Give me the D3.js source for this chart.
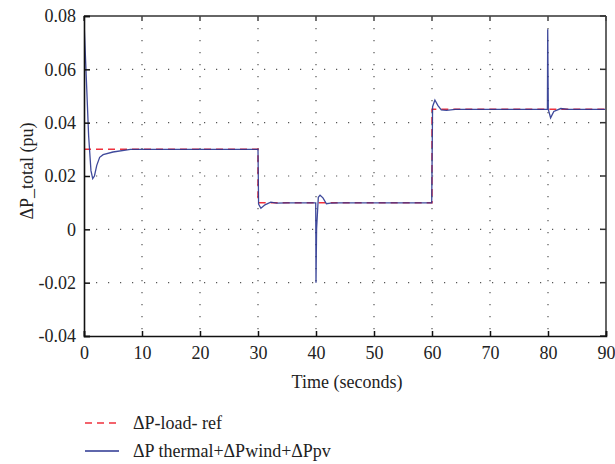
<!DOCTYPE html>
<html>
<head>
<meta charset="utf-8">
<script src="https://cdn.jsdelivr.net/npm/d3@7"></script>
</head>
<body style="margin:0; background:#fff">
<div id="chart-area"></div>
<script>
// data
var xTicks = [0, 10, 20, 30, 40, 50, 60, 70, 80, 90];
var yTicks = [-0.04, -0.02, 0, 0.02, 0.04, 0.06, 0.08];

var refTime = [0, 30, 30, 60, 60, 90, 90];
var refValue = [0.03, 0.03, 0.01, 0.01, 0.045, 0.045, 0.03];

var totTime = [0, 0.3, 0.8, 1.2, 1.5, 1.8, 2.2, 2.7, 3.3, 5, 8,
  30, 30.1, 30.5, 31.2, 32.2, 33.2, 35,
  39.95, 40.0, 40.1, 40.4, 40.7, 41.2, 41.8, 42.5, 44,
  59.95, 60.1, 60.5, 61.0, 61.6, 62.5, 64,
  79.9, 79.95, 80.05, 80.45, 81.0, 82.2, 83.5, 90];
var totValue = [0.078, 0.062, 0.035, 0.022, 0.019, 0.020, 0.024, 0.027, 0.028, 0.029, 0.030,
  0.030, 0.0095, 0.0079, 0.0092, 0.0102, 0.0098, 0.0099,
  0.0099, -0.02, 0.0, 0.012, 0.0128, 0.0118, 0.0096, 0.0098, 0.0099,
  0.0099, 0.046, 0.0485, 0.0465, 0.0448, 0.0446, 0.045,
  0.045, 0.075, 0.045, 0.0418, 0.0442, 0.0453, 0.045, 0.045];

var legendNames = ["\u0394P-load- ref", "\u0394P thermal+\u0394Pwind+\u0394Ppv"];

var serif = "'Liberation Serif'";

var margin = {top: 16, right: 9, bottom: 128, left: 84};
var width = 615 - margin.left - margin.right;
var height = 464 - margin.top - margin.bottom;

var svg = d3.select("#chart-area").append("svg")
  .attr("width", 615)
  .attr("height", 464);

var g = svg.append("g")
  .attr("transform", "translate(" + margin.left + ", " + margin.top + ")");

var x = d3.scaleLinear().domain([0, 90]).range([0, width]);
var y = d3.scaleLinear().domain([-0.04, 0.08]).range([height, 0]);

// dotted grid
g.append("g").selectAll("line").data(xTicks.slice(1, -1)).enter().append("line")
  .attr("x1", d => x(d)).attr("x2", d => x(d))
  .attr("y1", 0).attr("y2", height)
  .attr("stroke", "#555").attr("stroke-width", 1.2)
  .attr("stroke-dasharray", "1.2,10.8");
g.append("g").selectAll("line").data(yTicks.slice(1, -1)).enter().append("line")
  .attr("y1", d => y(d)).attr("y2", d => y(d))
  .attr("x1", 0).attr("x2", width)
  .attr("stroke", "#555").attr("stroke-width", 1.2)
  .attr("stroke-dasharray", "1.2,10.8");

// clip for lines
svg.append("defs").append("clipPath").attr("id", "clip")
  .append("rect").attr("x", 0).attr("y", -2).attr("width", width).attr("height", height + 4);

var line = d3.line().x(d => x(d[0])).y(d => y(d[1]));

var lines = g.append("g").attr("clip-path", "url(#clip)");
lines.append("path")
  .datum(refTime.map((t, i) => [t, refValue[i]]))
  .attr("d", line)
  .attr("fill", "none")
  .attr("stroke", "#f0303c")
  .attr("stroke-width", 1.5)
  .attr("stroke-dasharray", "7,5");
lines.append("path")
  .datum(totTime.map((t, i) => [t, totValue[i]]))
  .attr("d", line)
  .attr("fill", "none")
  .attr("stroke", "#2a3590")
  .attr("stroke-width", 1.3)
  .attr("stroke-opacity", 0.9);

// top and right box edges (grey) with inward ticks
g.append("line").attr("x1", 0).attr("x2", width).attr("y1", 0).attr("y2", 0)
  .attr("stroke", "#666").attr("stroke-width", 2);
g.append("line").attr("x1", width).attr("x2", width).attr("y1", 0).attr("y2", height)
  .attr("stroke", "#666").attr("stroke-width", 2);
g.append("g").selectAll("line").data(xTicks).enter().append("line")
  .attr("x1", d => x(d)).attr("x2", d => x(d)).attr("y1", 0).attr("y2", 5)
  .attr("stroke", "#444").attr("stroke-width", 1.5);
g.append("g").selectAll("line").data(yTicks).enter().append("line")
  .attr("y1", d => y(d)).attr("y2", d => y(d)).attr("x1", width - 6).attr("x2", width)
  .attr("stroke", "#333").attr("stroke-width", 1.5);

// axes
var xAxisCall = d3.axisBottom(x).tickValues(xTicks).tickSize(-5).tickPadding(10)
  .tickFormat(d3.format("d"));
var yAxisCall = d3.axisLeft(y).tickValues(yTicks).tickSize(-6).tickPadding(8)
  .tickFormat(d => d === 0 ? "0" : d.toFixed(2));

var xAxis = g.append("g")
  .attr("class", "x axis")
  .attr("transform", "translate(0, " + height + ")")
  .call(xAxisCall);
var yAxis = g.append("g")
  .attr("class", "y axis")
  .call(yAxisCall);

[xAxis, yAxis].forEach(a => {
  a.attr("font-family", null).attr("font-size", null);
  a.select(".domain").attr("stroke", "#111").attr("stroke-width", 1.6);
  a.selectAll(".tick line").attr("stroke", "#111").attr("stroke-width", 1.5);
  a.selectAll(".tick text")
    .style("font-family", serif)
    .attr("font-size", 18)
    .attr("fill", "#222");
});

// X Label
g.append("text")
  .attr("x", width / 2 + 2)
  .attr("y", height + 52)
  .attr("font-size", 18)
  .attr("text-anchor", "middle")
  .style("font-family", serif)
  .style("fill", "#222")
  .text("Time (seconds)");

// Y Label
g.append("text")
  .attr("x", -(height / 2) + 5)
  .attr("y", -51)
  .attr("font-size", 18)
  .attr("text-anchor", "middle")
  .attr("transform", "rotate(-90)")
  .style("font-family", serif)
  .style("fill", "#222")
  .text("\u0394P_total (pu)");

// legend
var legend = svg.append("g").attr("transform", "translate(85, 423)");
legendNames.forEach((name, i) => {
  var row = legend.append("g").attr("transform", "translate(0, " + (i * 28) + ")");
  row.append("line")
    .attr("x1", 0).attr("x2", 34).attr("y1", 0).attr("y2", 0)
    .attr("stroke", i === 0 ? "#f0303c" : "#2a3590")
    .attr("stroke-width", 1.5)
    .attr("stroke-dasharray", i === 0 ? "7,5" : null);
  row.append("text")
    .attr("x", 48).attr("y", 6)
    .attr("font-size", 18)
    .style("font-family", serif)
    .style("fill", "#222")
    .text(name);
});
</script>
</body>
</html>
